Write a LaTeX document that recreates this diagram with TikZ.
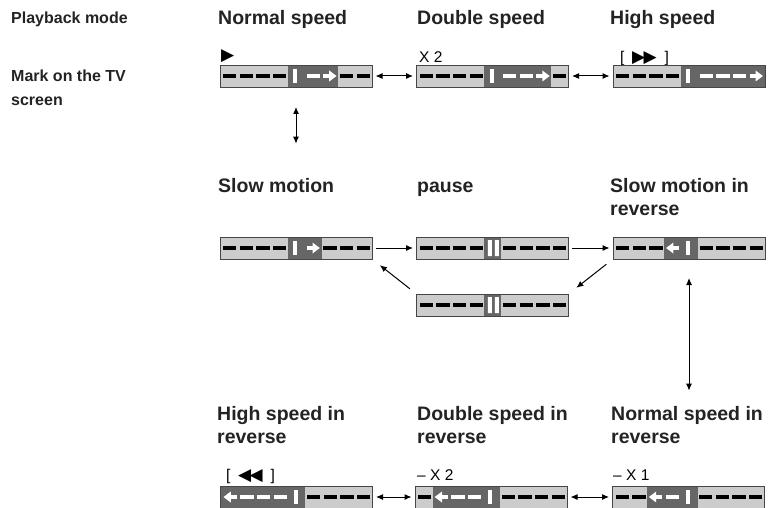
\documentclass[tikz,border=0pt]{standalone}
\usepackage{fontspec}
\setmainfont{Liberation Sans}
\newfontfamily\symfont{DejaVu Sans}
\usetikzlibrary{arrows.meta, positioning, calc}
\definecolor{tapelight}{RGB}{204,204,204}
\definecolor{tapedark}{RGB}{102,102,102}
\definecolor{tapeedge}{RGB}{70,70,70}
\definecolor{labelgray}{RGB}{35,35,35}

% one slot of a tape bar, \xa = left end of the slot
\newcommand{\slotb}{\draw[line width=4pt, black] (\xa,0) -- ++(13.3,0);}
\newcommand{\slotw}{\draw[line width=4pt, white] (\xa,0) -- ++(13.3,0);}
\newcommand{\slotr}{\draw[line width=4pt, white] (\xa,0) -- ++(7,0);
  \fill[white] (\xa+6,-5.5) -- (\xa+13.3,0) -- (\xa+6,5.5) -- cycle;}
\newcommand{\slotl}{\draw[line width=4pt, white] (\xa+6.3,0) -- ++(7,0);
  \fill[white] (\xa+7.3,-5.5) -- (\xa,0) -- (\xa+7.3,5.5) -- cycle;}
\newcommand{\slotm}{\fill[white] (\xa+3.5,-7) rectangle (\xa+7.5,7);}
\newcommand{\slotp}{\fill[white] (\xa+1.5,-8) rectangle (\xa+5.5,8)
  (\xa+8.5,-8) rectangle (\xa+12.5,8);}

% #1 bar node, #2/#3 dark part, #4 slots
\newcommand{\tapemarks}[4]{%
  \begin{scope}[shift={(#1.west)}]
    \fill[tapedark] (#2,-11) rectangle (#3,11);
    \foreach \s [count=\i] in {#4} {
      \pgfmathsetmacro{\xa}{3+(\i-1)*16.7}
      \csname slot\s\endcsname
    }
  \end{scope}
  \draw[tapeedge, line width=0.8pt] (#1.north west) rectangle (#1.south east);}

\newcommand{\playsym}{{\symfont\fontsize{17}{17}\selectfont ▶}}
\newcommand{\backsym}{{\symfont\fontsize{17}{17}\selectfont ◀}}

\tikzset{
  tape/.style={fill=tapelight, minimum width=152pt, minimum height=22pt, inner sep=0pt, outer sep=0pt},
  modelbl/.style={anchor=base west, inner sep=0pt, text=labelgray, align=left, font=\bfseries\fontsize{19.5}{23.5}\selectfont},
  sidelbl/.style={anchor=base west, inner sep=0pt, text=labelgray, align=left, font=\bfseries\fontsize{16}{24}\selectfont},
  marklbl/.style={anchor=base west, inner sep=0pt, text=black, font=\fontsize{15.5}{18}\selectfont},
  link/.style={line width=1pt, black},
  twoway/.style={link, {Latex[length=7pt,width=6pt]}-{Latex[length=7pt,width=6pt]}},
  oneway/.style={link, -{Latex[length=7pt,width=6pt]}}
}

\begin{document}
\begin{tikzpicture}[x=1pt, y=-1pt]
  \useasboundingbox (0,0) rectangle (776,508);

  % side labels (two-line nodes sit on their last line)
  \node[sidelbl] (playlbl) at (11,24) {Playback mode};
  \node[sidelbl] (tvlbl) at (11,106) {Mark on the TV\\screen};

  % mode names
  \node[modelbl] (normallbl) at (218,25) {Normal speed};
  \node[modelbl] (doublelbl) at (417,25) {Double speed};
  \node[modelbl] (highlbl) at (610,25) {High speed};
  \node[modelbl] (slowlbl) at (218,192) {Slow motion};
  \node[modelbl] (pauselbl) at (417,192) {pause};
  \node[modelbl] (slowrevlbl) at (610,215.5) {Slow motion in\\reverse};
  \node[modelbl] (highrevlbl) at (217,443.5) {High speed in\\reverse};
  \node[modelbl] (doublerevlbl) at (417,443.5) {Double speed in\\reverse};
  \node[modelbl] (normalrevlbl) at (611,443.5) {Normal speed in\\reverse};

  % marks above the bars
  \node[marklbl] (normalmk) at (221,61) {\playsym};
  \node[marklbl] (doublemk) at (419,63) {X 2};
  \node[marklbl] (highmk) at (620,63) {[\hspace{7.5pt}\playsym\kern-1.5pt\playsym\hspace{8pt}]};
  \node[marklbl] (highrevmk) at (226,480) {[\hspace{7.5pt}\backsym\kern-1.5pt\backsym\hspace{8pt}]};
  \node[marklbl] (doublerevmk) at (417,480) {– X 2};
  \node[marklbl] (normalrevmk) at (613,480) {– X 1};

  % tape bars
  \node[tape] (normal) at (296,76) {};
  \node[tape] (double) at (492.5,76) {};
  \node[tape] (high) at (689,76) {};
  \node[tape] (slow) at (296,248) {};
  \node[tape] (pause) at (492.5,248) {};
  \node[tape] (slowrev) at (689,248) {};
  \node[tape] (pauseb) at (492.5,305) {};
  \node[tape] (highrev) at (296.5,497) {};
  \node[tape] (doublerev) at (491,497) {};
  \node[tape] (normalrev) at (688.5,497) {};

  \tapemarks{normal}{68}{118}{b,b,b,b,m,w,r,b,b}
  \tapemarks{double}{67}{134}{b,b,b,b,m,w,w,r,b}
  \tapemarks{high}{68}{152}{b,b,b,b,m,w,w,w,r}
  \tapemarks{slow}{68}{102}{b,b,b,b,m,r,b,b,b}
  \tapemarks{pause}{67}{84}{b,b,b,b,p,b,b,b,b}
  \tapemarks{slowrev}{51}{85}{b,b,b,l,m,b,b,b,b}
  \tapemarks{pauseb}{67}{84}{b,b,b,b,p,b,b,b,b}
  \tapemarks{highrev}{0}{84}{l,w,w,w,m,b,b,b,b}
  \tapemarks{doublerev}{18}{85}{b,l,w,w,m,b,b,b,b}
  \tapemarks{normalrev}{34}{85}{b,b,l,w,m,b,b,b,b}

  % connectors
  \draw[twoway, shorten <=3.5pt, shorten >=3.5pt] (normal) -- (double);
  \draw[twoway, shorten <=3.5pt, shorten >=3.5pt] (double) -- (high);
  \draw[twoway, shorten <=20pt, shorten >=34pt] (normal.south) -- (normal.south |- slowlbl.north);
  \draw[oneway, shorten <=3.5pt, shorten >=3.5pt] (slow) -- (pause);
  \draw[oneway, shorten <=3.5pt, shorten >=3.5pt] (pause) -- (slowrev);
  \draw[oneway, shorten <=8.5pt, shorten >=10pt] (slowrev.south west) -- (pauseb.north east);
  \draw[oneway, shorten <=8.5pt, shorten >=10pt] (pauseb.north west) -- (slow.south east);
  \draw[twoway, shorten <=19pt, shorten >=15pt] (slowrev.south) -- (slowrev.south |- normalrevlbl.north);
  \draw[twoway, shorten <=3.5pt, shorten >=3.5pt] (highrev) -- (doublerev);
  \draw[twoway, shorten <=3.5pt, shorten >=3.5pt] (doublerev) -- (normalrev);
\end{tikzpicture}
\end{document}
